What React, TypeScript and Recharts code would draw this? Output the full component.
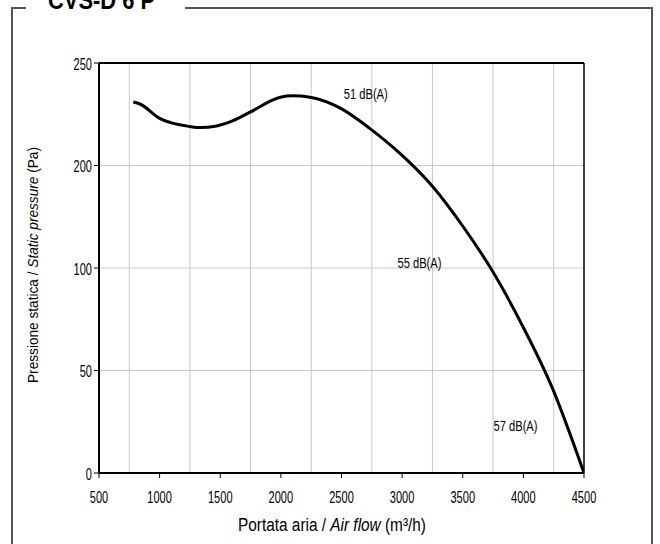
import React from "react";
import {
  LineChart,
  Line,
  XAxis,
  YAxis,
  CartesianGrid,
  ReferenceLine,
  ReferenceDot,
  Label,
} from "recharts";

// Fan curve: air flow (m³/h) vs static pressure (Pa)
const flows = [783, 838, 1000, 1250, 1333, 1470, 1610, 1745, 1995, 2100, 2240, 2490, 2735, 2980, 3255, 3505, 3740, 4000, 4235, 4500];
const pressures = [231, 230, 223, 219, 218.5, 219.3, 222, 226, 233.3, 234, 233.3, 228, 218, 206, 179, 140, 99, 71, 42, 0];

const xTicks = [500, 1000, 1500, 2000, 2500, 3000, 3500, 4000, 4500];
const xGrid = [750, 1000, 1250, 1500, 1750, 2000, 2250, 2500, 2750, 3000, 3250, 3500, 3750, 4000, 4250];
// the pressure axis is stepped: equal spacing between these labels
const yTickPa = [0, 50, 100, 200, 250];

const noiseLabels = ["51 dB(A)", "55 dB(A)", "57 dB(A)"];
const noiseFlows = [2700, 3143, 3935];
const noisePa = [235, 105, 23.4];

const FONT = "'Liberation Sans', Arial, Helvetica, sans-serif";

// Pa -> position on the stepped axis (0..4)
function toAxis(pa: number) {
  for (let i = 0; i < yTickPa.length - 1; i++) {
    const a = yTickPa[i];
    const b = yTickPa[i + 1];
    if (pa <= b) return i + (pa - a) / (b - a);
  }
  return yTickPa.length - 1;
}

const data = flows.map((f, i) => ({ flow: f, p: toAxis(pressures[i]) }));

function XTick(props: any) {
  const { x, y, payload } = props;
  return (
    <text
      transform={`translate(${x},${y}) scale(0.69,1)`}
      textAnchor="middle"
      dy="0.71em"
      fontSize={16}
      fontFamily={FONT}
      fill="#000"
    >
      {payload.value}
    </text>
  );
}

function YTick(props: any) {
  const { x, y, payload } = props;
  return (
    <text
      transform={`translate(${x},${y + 1}) scale(0.69,1)`}
      textAnchor="end"
      dy="0.355em"
      fontSize={16}
      fontFamily={FONT}
      fill="#000"
    >
      {yTickPa[payload.value]}
    </text>
  );
}

function NoteLabel(props: any) {
  const { viewBox, value } = props;
  const cx = viewBox.x + (viewBox.width || 0) / 2;
  const cy = viewBox.y + (viewBox.height || 0) / 2;
  return (
    <text
      transform={`translate(${cx},${cy}) scale(0.72,1)`}
      textAnchor="middle"
      dy="0.355em"
      fontSize={15.5}
      fontFamily={FONT}
      fill="#000"
    >
      {value}
    </text>
  );
}

function XTitle() {
  return (
    <text x={332} y={531} textAnchor="middle" fontSize={18} fontFamily={FONT} fill="#000" textLength={188} lengthAdjust="spacingAndGlyphs">
      Portata aria / <tspan fontStyle="italic">Air flow</tspan> (m³/h)
    </text>
  );
}

function YTitle() {
  return (
    <text
      transform="translate(37.5,265) rotate(-90)"
      textAnchor="middle"
      fontSize={15}
      fontFamily={FONT}
      fill="#000"
      textLength={236}
      lengthAdjust="spacingAndGlyphs"
    >
      Pressione statica / <tspan fontStyle="italic">Static pressure</tspan> (Pa)
    </text>
  );
}

export default function App() {
  return (
    <div style={{ position: "absolute", left: 0, top: 0, width: 660, height: 544, background: "#fff", overflow: "hidden" }}>
      <svg width={660} height={544} style={{ position: "absolute", left: 0, top: 0 }}>
        <path d="M26,8 H12 V560 M185,8 H652 V560" fill="none" stroke="#555" strokeWidth={2} />
        <text x={101.5} y={9} textAnchor="middle" fontSize={26} fontWeight="bold" fontFamily={FONT} fill="#000" textLength={107} lengthAdjust="spacingAndGlyphs">
          CVS-D 6 P
        </text>
        <XTitle />
        <YTitle />
      </svg>
      <div style={{ position: "absolute", left: 0, top: 0 }}>
        <LineChart width={660} height={544} data={data} margin={{ top: 63, right: 76, bottom: 41, left: 59 }}>
          <CartesianGrid
            stroke="#c8c8c8"
            strokeWidth={1}
            verticalValues={xGrid}
            horizontalValues={[1, 2, 3]}
          />
          <XAxis
            type="number"
            dataKey="flow"
            domain={[500, 4500]}
            ticks={xTicks}
            allowDataOverflow
            height={30}
            tickSize={5}
            tickMargin={14}
            tick={<XTick />}
            axisLine={{ stroke: "#000", strokeWidth: 2 }}
            tickLine={{ stroke: "#000", strokeWidth: 1 }}
          />
          <YAxis
            type="number"
            domain={[0, 4]}
            ticks={[0, 1, 2, 3, 4]}
            allowDataOverflow
            width={40}
            tickSize={5}
            tickMargin={2}
            tick={<YTick />}
            axisLine={{ stroke: "#000", strokeWidth: 2 }}
            tickLine={{ stroke: "#000", strokeWidth: 1 }}
          />
          <ReferenceLine y={4} stroke="#000" strokeWidth={2} />
          <ReferenceLine x={4500} stroke="#000" strokeWidth={1.5} />
          <Line
            type="monotone"
            dataKey="p"
            stroke="#000"
            strokeWidth={3}
            dot={false}
            isAnimationActive={false}
          />
          {noiseLabels.map((t, i) => (
            <ReferenceDot key={t} x={noiseFlows[i]} y={toAxis(noisePa[i])} r={0} stroke="none" fill="none">
              <Label value={t} content={<NoteLabel />} />
            </ReferenceDot>
          ))}
        </LineChart>
      </div>
    </div>
  );
}
